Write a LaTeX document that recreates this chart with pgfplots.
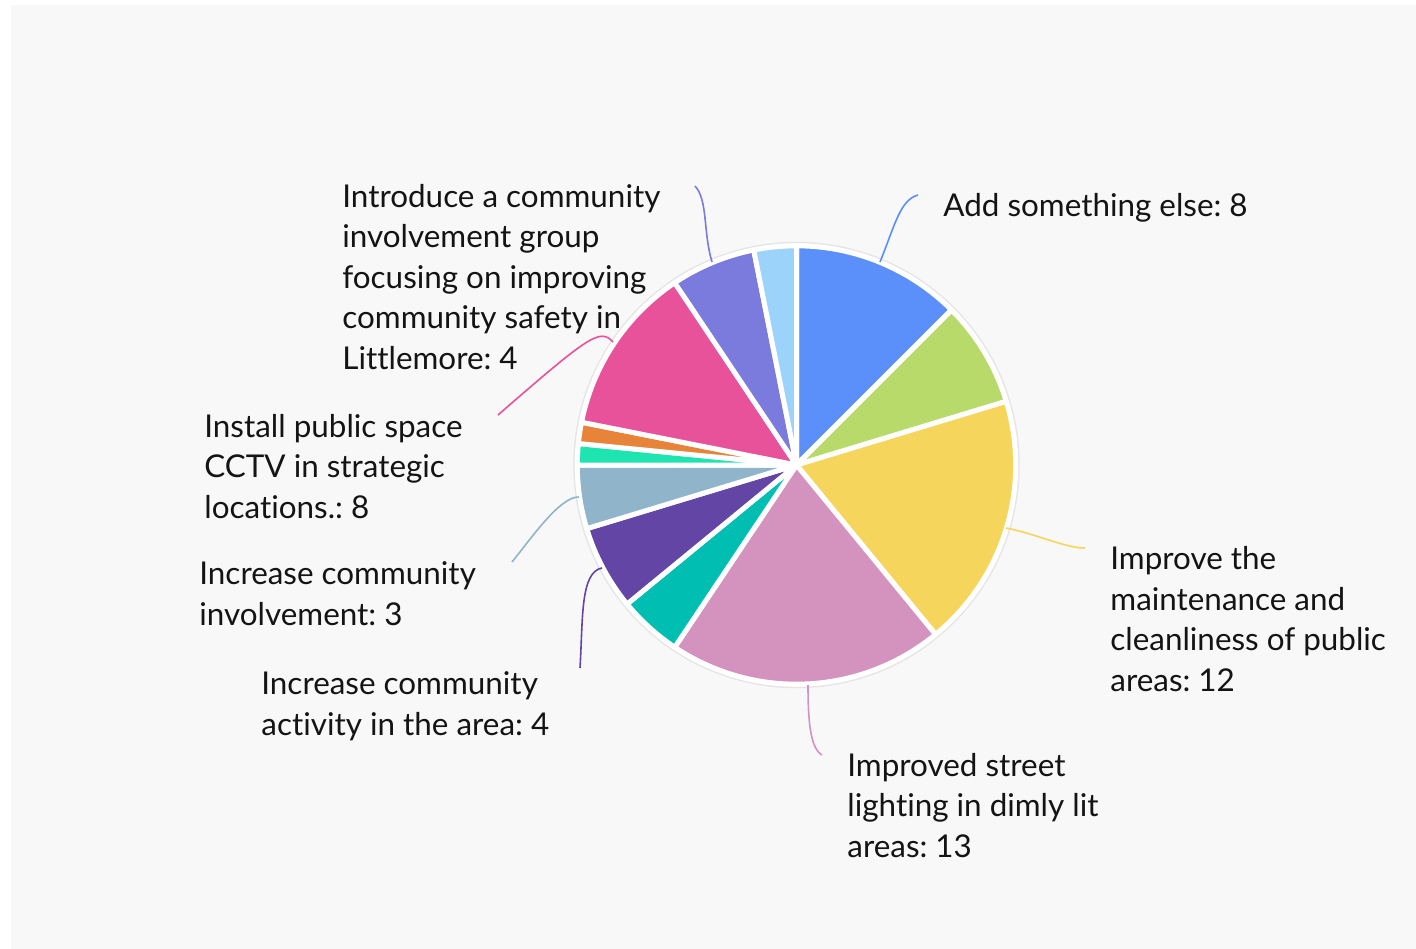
\documentclass[border=0pt]{standalone}
\usepackage{pgfplots}
\pgfplotsset{compat=1.18}
\usepackage{pgfplotstable}
\usepackage{fontspec}
\setmainfont{Lato}[Ligatures=NoCommon]
\frenchspacing

\definecolor{bgcol}{HTML}{F8F8F8}
\definecolor{sblue}{HTML}{5B8FF9}
\definecolor{slime}{HTML}{B8DA6A}
\definecolor{syellow}{HTML}{F6D55C}
\definecolor{smauve}{HTML}{D493BE}
\definecolor{steal}{HTML}{00BFB2}
\definecolor{spurple}{HTML}{6245A4}
\definecolor{sgrey}{HTML}{90B4C9}
\definecolor{smint}{HTML}{1EE4B0}
\definecolor{sorange}{HTML}{E8843A}
\definecolor{smagenta}{HTML}{E8529A}
\definecolor{sviolet}{HTML}{7B7BDD}
\definecolor{ssky}{HTML}{9CD3FA}

% slices, clockwise from 12 o'clock
\pgfplotstableread{
value colour
8  sblue
5  slime
12 syellow
13 smauve
3  steal
4  spurple
3  sgrey
1  smint
1  sorange
8  smagenta
4  sviolet
2  ssky
}\piedata

\tikzset{
  lab/.style={font=\fontsize{15.7bp}{20.2bp}\selectfont, align=left,
    anchor=base west, inner sep=0pt, text=black!92},
  lead/.style={line width=0.8bp},
}

\begin{document}
\begin{tikzpicture}
\pgfplotstablegetrowsof{\piedata}
\pgfmathtruncatemacro\nlast{\pgfplotsretval-1}
\gdef\total{0}
\foreach \i in {0,...,\nlast}{
  \pgfplotstablegetelem{\i}{value}\of{\piedata}
  \pgfmathsetmacro\t{\total+\pgfplotsretval}\xdef\total{\t}
}
\begin{axis}[
  width=708bp, height=474.5bp, scale only axis,
  xmin=0, xmax=1416, ymin=0, ymax=949, y dir=reverse,
  axis lines=none, clip=false,
]
% page and panel
\fill[white] (0,0) rectangle (1416,949);
\fill[bgcol] (11,5) rectangle (1416,949);

% ring round the pie
\fill[black!10] (796.5,465) circle[radius=111.6bp];
\fill[white] (796.5,465) circle[radius=110.8bp];

\gdef\cum{0}
\foreach \i in {0,...,\nlast}{
  \pgfplotstablegetelem{\i}{value}\of{\piedata}\let\val\pgfplotsretval
  \pgfplotstablegetelem{\i}{colour}\of{\piedata}\let\col\pgfplotsretval
  \pgfmathsetmacro\aa{90-360*(\cum/\total)}
  \pgfmathsetmacro\bb{90-360*((\cum+\val)/\total)}
  \pgfmathsetmacro\t{\cum+\val}\xdef\cum{\t}
  \edef\wedge{\noexpand\filldraw[fill=\col, draw=white, line width=2.5bp, line join=round]
    (796.5,465) -- ++(\aa:109.6bp) arc[start angle=\aa, end angle=\bb, radius=109.6bp] -- cycle;}
  \wedge
}

% leader lines
\draw[lead, sblue] (880,262) .. controls (895,225) and (900,200) .. (918,195);
\draw[lead, syellow] (1006,528) .. controls (1040,535) and (1065,548) .. (1085,548);
\draw[lead, smauve] (808,685) .. controls (808,720) and (810,748) .. (822,755);
\draw[lead, spurple] (602,568) .. controls (580,572) and (583,620) .. (580,668);
\draw[lead, sgrey] (579,497) .. controls (560,496) and (530,540) .. (512,562);
\draw[lead, smagenta] (613,342) .. controls (600,328) and (590,335) .. (498,415);
\draw[lead, sviolet] (712,262) .. controls (703,232) and (708,200) .. (695,186);

% labels (anchored at the baseline of the last line)
\node[lab] at (943,216) {Add something else: 8};
\node[lab] at (1110,691) {Improve the\\maintenance and\\cleanliness of public\\areas: 12};
\node[lab] at (847,857) {Improved street\\lighting in dimly lit\\areas: 13};
\node[lab] at (261,735) {Increase community\\activity in the area: 4};
\node[lab] at (199,625) {Increase community\\involvement: 3};
\node[lab] at (204,518) {Install public space\\CCTV in strategic\\locations.: 8};
\node[lab] at (342,369) {Introduce a community\\involvement group\\focusing on improving\\community safety in\\Littlemore: 4};
\end{axis}
\end{tikzpicture}
\end{document}
